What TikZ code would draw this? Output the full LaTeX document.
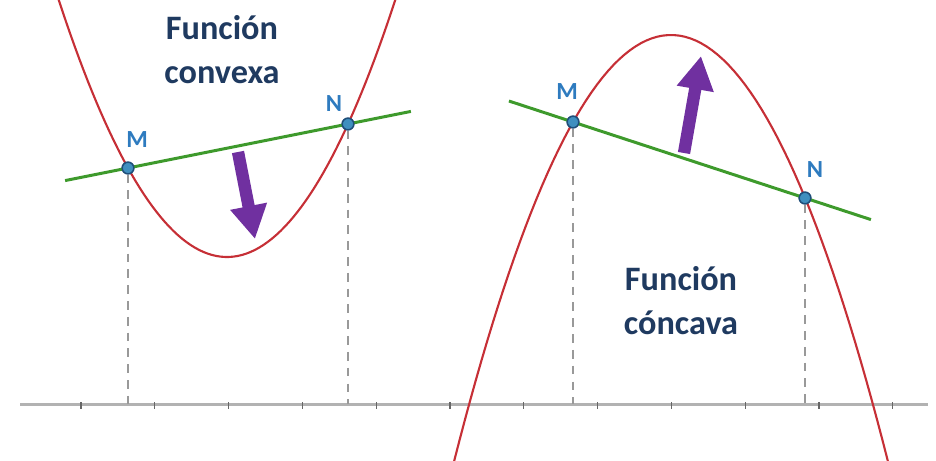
\documentclass[tikz,border=0pt]{standalone}
\usepackage{fontspec}
\setmainfont{Carlito}
\usetikzlibrary{arrows.meta, calc, positioning}
\definecolor{curvered}{HTML}{C62F36}
\definecolor{secgreen}{HTML}{3E9A2C}
\definecolor{ptfill}{HTML}{3F8FBF}
\definecolor{ptdraw}{HTML}{1F4E79}
\definecolor{lblblue}{HTML}{2E7BBF}
\definecolor{titlenavy}{HTML}{1F3A60}
\definecolor{arrowpurple}{HTML}{7030A0}
\tikzset{
  curve/.style     = {curvered, line width=1.2pt},
  secant/.style    = {secgreen, line width=1.7pt},
  guide/.style     = {gray!80, dashed, line width=0.9pt, dash pattern=on 5pt off 4pt},
  axisline/.style  = {gray!60, line width=1.7pt},
  tickmark/.style  = {gray!80!black, line width=0.6pt},
  pt/.style        = {circle, draw=ptdraw, fill=ptfill, line width=0.8pt,
                      minimum size=6.6pt, inner sep=0pt},
  ptlabel/.style   = {lblblue, font=\fontsize{14}{14}\selectfont\bfseries},
  title/.style     = {titlenavy, align=center,
                      font=\fontsize{19.5}{25}\selectfont\bfseries},
  bigarrow/.style  = {arrowpurple, line width=7pt,
                      -{Triangle[length=19pt, width=20pt]}}
}
\begin{document}
\begin{tikzpicture}[x=0.02cm, y=-0.02cm]
  \useasboundingbox (0,0) rectangle (936,460);
  \clip (0,0) rectangle (936,460);

  % x axis
  \coordinate (axl) at (20,404);
  \coordinate (axr) at (928,404);
  \draw[axisline] (axl) -- (axr);
  \foreach \k in {0,...,11}
    \draw[tickmark] (81+73.8*\k,402) -- (81+73.8*\k,409);

  % convex side
  \draw[curve, domain=58:396, samples=80] plot (\x, {257-(0.09529*(\x-227))^2});
  \node[pt] (M1) at (128,168) {};
  \node[pt] (N1) at (348,124) {};
  \draw[guide] (M1) -- (M1 |- axl);
  \draw[guide] (N1) -- (N1 |- axl);
  \draw[secant] ($(M1)!-0.286!(N1)$) -- ($(N1)!-0.286!(M1)$);
  \node[pt] at (M1) {};
  \node[pt] at (N1) {};
  \node[ptlabel] (lM1) at ($(M1)+(9,-28)$) {M};
  \node[ptlabel] (lN1) at ($(N1)+(-14,-20)$) {N};
  \draw[bigarrow] (238,152) -- (255,239);
  \node[title] (t1) at (222,50) {Función\\convexa};

  % concave side
  \draw[curve, domain=454:888, samples=80] plot (\x, {35+(0.09518*(\x-671))^2});
  \node[pt] (M2) at (573,122) {};
  \node[pt] (N2) at (805,198) {};
  \draw[guide] (M2) -- (M2 |- axl);
  \draw[guide] (N2) -- (N2 |- axl);
  \draw[secant] ($(M2)!-0.276!(N2)$) -- ($(N2)!-0.284!(M2)$);
  \node[pt] at (M2) {};
  \node[pt] at (N2) {};
  \node[ptlabel] (lM2) at ($(M2)+(-6,-30)$) {M};
  \node[ptlabel] (lN2) at ($(N2)+(10,-28)$) {N};
  \draw[bigarrow] (684,153) -- (701,56);
  \node[title] (t2) at (681,301) {Función\\cóncava};
\end{tikzpicture}
\end{document}
